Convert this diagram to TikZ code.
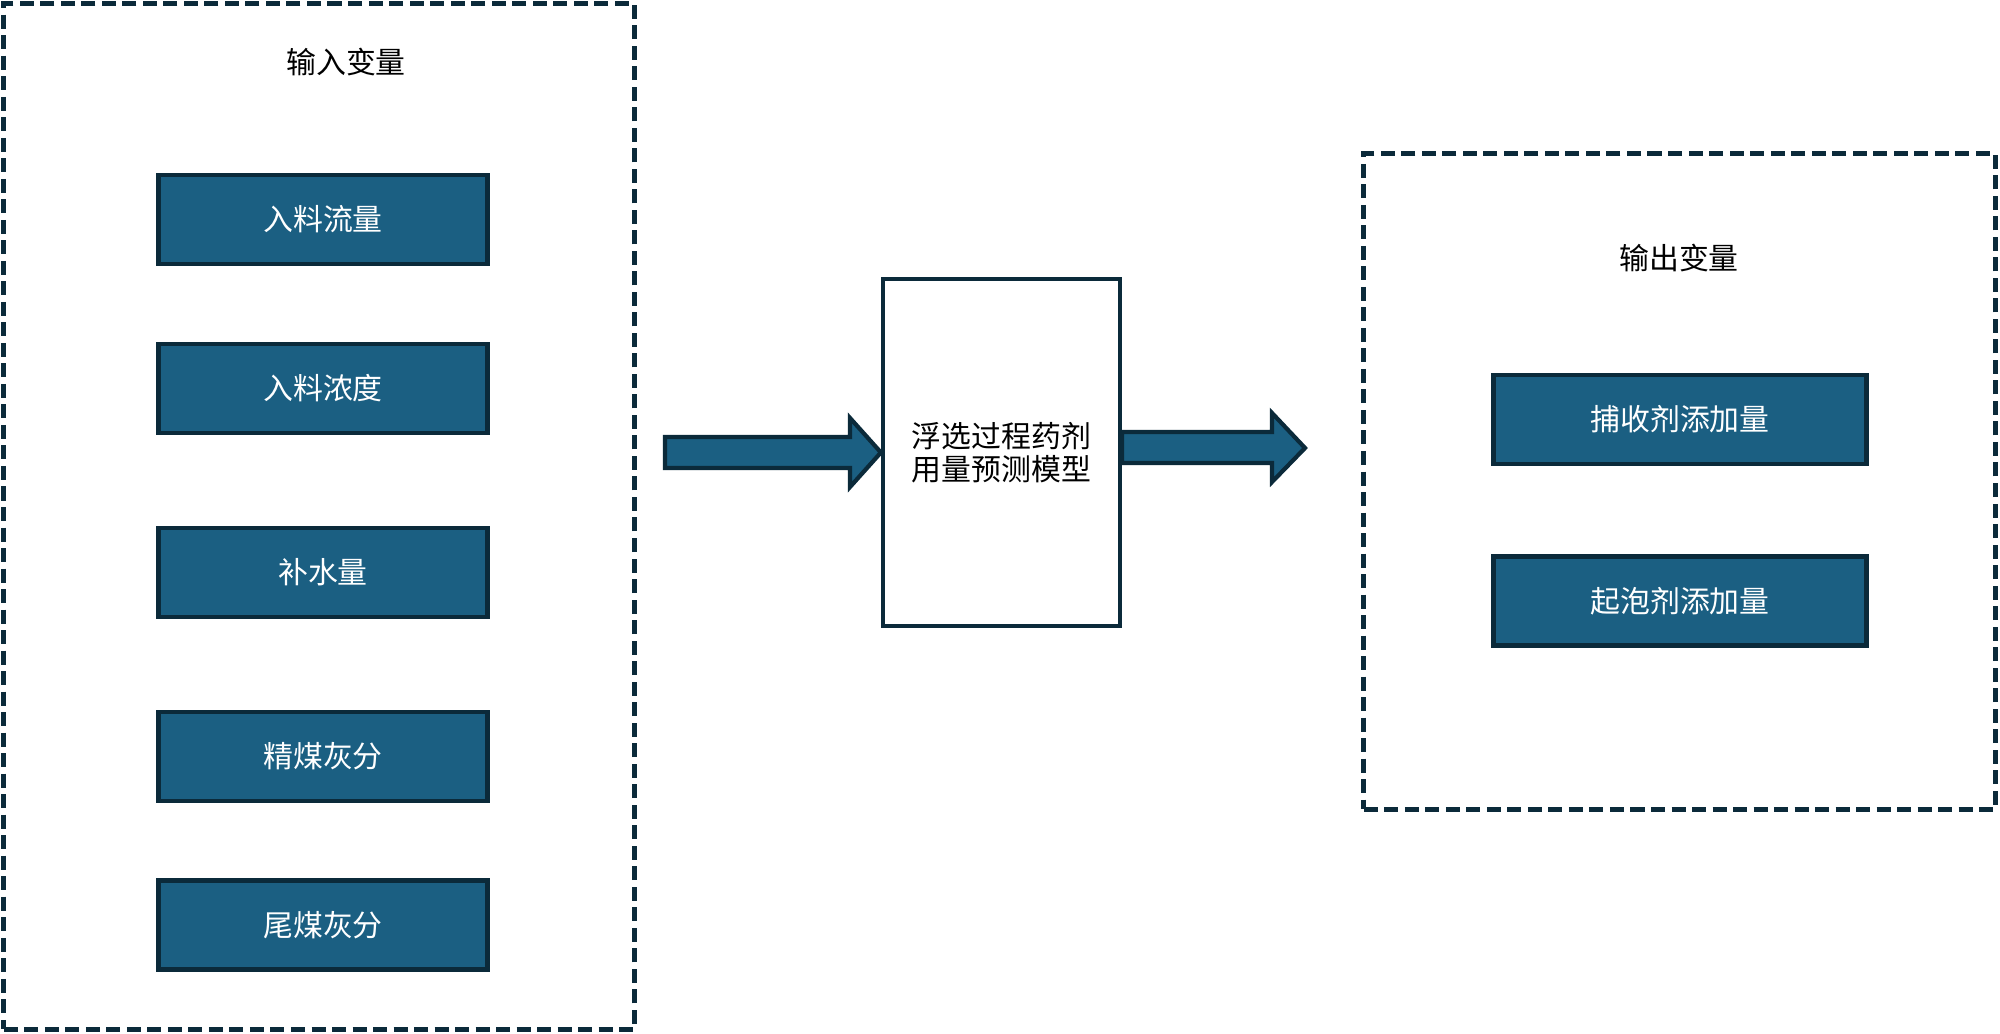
\documentclass[tikz,border=0pt]{standalone}
\usepackage{fontspec}
\setmainfont{Noto Sans CJK SC}
\definecolor{fillc}{HTML}{1B5F82}
\definecolor{bordc}{HTML}{0B2A3A}
\begin{document}
\begin{tikzpicture}[x=0.01cm,y=-0.01cm,
  txt/.style={font=\fontsize{8.5}{10.5}\selectfont},
  varbox/.style={txt, draw=bordc, fill=fillc, line width=1.4pt, text=white,
    minimum width=3.29cm, minimum height=0.89cm, inner sep=0pt},
  groupbox/.style={draw=bordc, line width=1.45pt, dash pattern=on 0.14cm off 0.065cm, inner sep=0pt},
  modelbox/.style={txt, draw=bordc, fill=white, line width=1.15pt, align=center,
    minimum width=2.37cm, minimum height=3.47cm, inner sep=0pt},
  blockarrow/.style={draw=bordc, fill=fillc, line width=1.2pt, line join=miter}]
\useasboundingbox (0,0) rectangle (2000,1034);
% group boxes
\node[groupbox, minimum width=6.30cm, minimum height=10.25cm] (inbox) at (319,516.5) {};
\node[groupbox, minimum width=6.31cm, minimum height=6.55cm] (outbox) at (1679.5,481.5) {};
\node[txt] (intitle) at (346,62) {输入变量};
\node[txt] (outtitle) at (1679,258) {输出变量};
% input variables
\node[varbox] (v1) at (323,219.5) {入料流量};
\node[varbox] (v2) at (323,388.5) {入料浓度};
\node[varbox] (v3) at (323,572.5) {补水量};
\node[varbox] (v4) at (323,756.5) {精煤灰分};
\node[varbox] (v5) at (323,925) {尾煤灰分};
% output variables
\node[varbox, minimum width=3.73cm] (o1) at (1680,419.5) {捕收剂添加量};
\node[varbox, minimum width=3.73cm] (o2) at (1680,601) {起泡剂添加量};
% model
\node[modelbox] (model) at (1001.5,452.5) {浮选过程药剂\\[-1pt]用量预测模型};
% block arrows
\coordinate (a2top) at (0,432);
\coordinate (a2bot) at (0,463);
\draw[blockarrow] (665,437) -- (850,437) -- (850,418) -- (model.west) -- (850,487) -- (850,468) -- (665,468) -- cycle;
\draw[blockarrow] (model.east |- a2top) -- (1272,432) -- (1272,413) -- (1305,448) -- (1272,482) -- (1272,463) -- (model.east |- a2bot) -- cycle;
\end{tikzpicture}
\end{document}
